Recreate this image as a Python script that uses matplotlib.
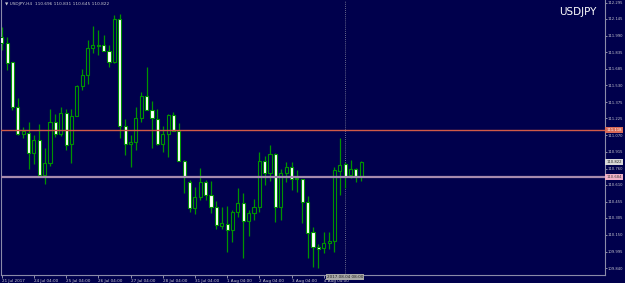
import matplotlib
matplotlib.use('Agg')
import matplotlib.pyplot as plt
from matplotlib.patches import Rectangle
import matplotlib.transforms as mtransforms

symbol = "USDJPY"
header = "USDJPY,H4  110.696 110.831 110.645 110.822"

opens = [111.980, 111.925, 111.747, 111.334, 111.078, 111.091, 110.903, 111.026, 110.702, 110.811,
         111.195, 111.078, 111.273, 110.986, 111.251, 111.528, 111.624, 111.874, 111.907, 111.904,
         111.851, 111.750, 112.144, 111.158, 110.986, 111.005, 111.227, 111.433, 111.303, 111.220,
         110.989, 111.078, 111.254, 111.112, 110.835, 110.635, 110.395, 110.502, 110.635, 110.518,
         110.404, 110.234, 110.250, 110.194, 110.358, 110.441, 110.277, 110.348, 110.410, 110.832,
         110.718, 110.894, 110.410, 110.718, 110.779, 110.672, 110.663, 110.456, 110.171, 110.040,
         110.023, 110.071, 110.095, 110.740, 110.801, 110.705, 110.755, 110.696]
highs = [112.073, 111.975, 111.750, 111.412, 111.143, 111.190, 111.072, 111.171, 110.955, 111.313,
         111.266, 111.334, 111.313, 111.315, 111.535, 111.682, 111.950, 112.080, 112.043, 111.996,
         111.904, 112.181, 112.191, 111.217, 111.072, 111.328, 111.472, 111.704, 111.387, 111.313,
         111.155, 111.266, 111.282, 111.180, 110.840, 110.656, 110.592, 110.770, 110.656, 110.647,
         110.462, 110.410, 110.419, 110.379, 110.585, 110.533, 110.379, 110.478, 110.912, 110.878,
         110.980, 110.903, 110.758, 110.820, 110.820, 110.749, 110.666, 110.508, 110.225, 110.065,
         110.178, 110.173, 110.772, 111.042, 110.823, 110.844, 110.765, 110.831]
lows = [111.858, 111.673, 111.303, 111.072, 111.042, 110.758, 110.804, 110.700, 110.617, 110.789,
        111.057, 111.063, 110.934, 110.816, 111.248, 111.488, 111.544, 111.827, 111.812, 111.845,
        111.704, 111.735, 111.047, 110.887, 110.774, 110.934, 111.195, 111.300, 110.949, 110.980,
        110.918, 110.872, 111.110, 110.830, 110.539, 110.360, 110.342, 110.471, 110.471, 110.349,
        110.203, 110.203, 109.994, 110.080, 110.317, 109.935, 110.141, 110.287, 110.363, 110.610,
        110.650, 110.271, 110.287, 110.641, 110.564, 110.548, 110.256, 109.938, 109.855, 109.840,
        109.984, 110.019, 109.995, 110.513, 110.580, 110.672, 110.641, 110.645]
closes = [111.920, 111.740, 111.334, 111.078, 111.112, 110.903, 111.026, 110.702, 110.811, 111.195,
          111.078, 111.273, 110.980, 111.248, 111.528, 111.624, 111.874, 111.901, 111.898, 111.851,
          111.750, 112.144, 111.158, 110.986, 111.005, 111.227, 111.433, 111.303, 111.227, 110.989,
          111.078, 111.254, 111.112, 110.835, 110.687, 110.395, 110.502, 110.635, 110.518, 110.404,
          110.240, 110.256, 110.194, 110.358, 110.441, 110.277, 110.348, 110.410, 110.832, 110.718,
          110.894, 110.410, 110.718, 110.779, 110.666, 110.663, 110.450, 110.169, 110.040, 110.021,
          110.071, 110.092, 110.744, 110.792, 110.687, 110.755, 110.695, 110.822]

ytick_vals = [112.295, 112.145, 111.990, 111.835, 111.685, 111.530, 111.375, 111.225, 111.070,
              110.915, 110.760, 110.610, 110.455, 110.305, 110.150, 109.995, 109.840]
xtick_idx = [0, 6, 12, 18, 24, 30, 36, 42, 48, 54, 60]
xtick_labels = ["21 Jul 2017", "24 Jul 04:00", "25 Jul 04:00", "26 Jul 04:00", "27 Jul 04:00",
                "28 Jul 04:00", "31 Jul 04:00", "1 Aug 04:00", "2 Aug 04:00", "3 Aug 04:00",
                "4 Aug 04:00"]

red_level = 111.118
pink_level = 110.684
last_price = 110.822
cursor_idx = 64
cursor_label = "2017.08.04 08:00"

bg = '#00004c'
green = '#009400'
axcol = '#8a8aa8'
txtcol = '#c8c8d0'
fs = 2.7

W, H = 625, 283
fig = plt.figure(figsize=(W / 100, H / 100), dpi=100)
fig.patch.set_facecolor(bg)
ax = fig.add_axes([1 / W, 8 / H, 604 / W, 275 / H])
ax.set_facecolor(bg)
ax.set_xlim(-0.13, 112.41)
ax.set_ylim(109.778, 112.320)

bw = 0.58
for i, (o, h, l, c) in enumerate(zip(opens, highs, lows, closes)):
    ax.vlines(i, l, h, color=green, lw=0.9, zorder=2)
    lo, hi = min(o, c), max(o, c)
    face = 'white' if c < o else bg
    ax.add_patch(Rectangle((i - bw / 2, lo), bw, max(hi - lo, 0.002),
                           facecolor=face, edgecolor=green, lw=0.8, zorder=3))

ax.axhline(red_level, color='#d05a48', lw=1.0, zorder=4)
ax.axhline(pink_level, color='#a68aae', lw=1.6, zorder=4)
ax.axvline(cursor_idx, color='#8a8aa0', lw=0.6, ls=(0, (1, 1.5)), zorder=1)

ax.spines['top'].set_visible(False)
for s in ['left', 'right', 'bottom']:
    ax.spines[s].set_color(axcol)
    ax.spines[s].set_linewidth(0.8)

ax.yaxis.tick_right()
ax.set_yticks(ytick_vals)
ax.set_yticklabels([f"{v:.3f}" for v in ytick_vals])
ax.tick_params(axis='y', colors=txtcol, labelsize=fs, length=1.5, width=0.5, pad=0.6)
ax.set_xticks(xtick_idx)
ax.set_xticklabels(xtick_labels)
ax.tick_params(axis='x', colors=txtcol, labelsize=fs + 0.3, length=2, width=0.5, pad=0.8)
for t in ax.get_xticklabels():
    t.set_ha('left')

tr = mtransforms.blended_transform_factory(ax.transAxes, ax.transData)
ax.text(1.002, red_level, f"{red_level:.3f}", transform=tr, fontsize=fs, color='white',
        va='center', ha='left', zorder=6,
        bbox=dict(facecolor='#d86a58', edgecolor='none', pad=0.6), clip_on=False)
ax.text(1.002, last_price, f"{last_price:.3f}", transform=tr, fontsize=fs, color='#202020',
        va='center', ha='left', zorder=6,
        bbox=dict(facecolor='#d8d8d8', edgecolor='none', pad=0.6), clip_on=False)
ax.text(1.002, pink_level, f"{pink_level:.3f}", transform=tr, fontsize=fs, color='#404040',
        va='center', ha='left', zorder=6,
        bbox=dict(facecolor='#f0b0c8', edgecolor='none', pad=0.6), clip_on=False)

ax.text(cursor_idx, 109.778, cursor_label, fontsize=fs + 0.3, color='#202020', ha='center', va='top',
        zorder=6, bbox=dict(facecolor='#a8a8a8', edgecolor='none', pad=0.8), clip_on=False)

ax.text(0.007, 0.992, "\u25bc " + header, transform=ax.transAxes, fontsize=3.1, color=txtcol,
        ha='left', va='top')
ax.text(0.986, 0.975, symbol, transform=ax.transAxes, fontsize=7.5, color='white',
        ha='right', va='top')

fig.savefig('out.png', dpi=100, facecolor=bg)
